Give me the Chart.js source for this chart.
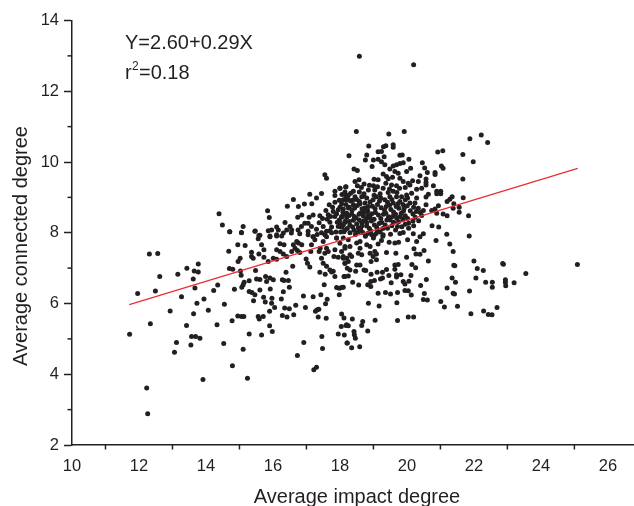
<!DOCTYPE html>
<html>
<head>
<meta charset="utf-8">
<script src="https://cdn.jsdelivr.net/npm/chart.js@4"></script>
<style>
  html, body { margin: 0; padding: 0; background: #fff; overflow: hidden; }
  canvas { display: block; }
</style>
</head>
<body>
<canvas id="chart" width="634" height="506"></canvas>
<script>
/* ===============================
   DATA
================================ */
const sparsePoints = [
  [11.72,5.13],[11.96,6.28],[12.31,7.40],[12.56,7.41],[12.62,6.76],[12.49,6.35],[12.34,5.43],[12.23,3.61],[12.26,2.88],
  [12.93,5.79],[13.06,4.62],[13.12,4.90],[13.16,6.83],[13.27,6.19],[13.43,7.00],[13.42,5.38],[13.55,4.83],[13.57,5.07],
  [13.69,5.07],[13.82,5.02],[13.62,6.69],[13.65,6.92],[13.77,6.89],[13.77,7.12],[13.67,6.44],[13.63,5.71],[13.73,6.01],
  [13.94,6.13],[13.91,3.85],[14.07,5.81],[14.23,6.37],[14.35,6.52],[14.33,5.40],[14.53,4.87],[14.55,5.98],[14.68,7.48],
  [14.70,6.99],[14.80,6.97],[14.71,8.03],[14.78,5.51],[14.79,4.24],[14.85,6.40],[14.95,7.66],[14.95,5.65],[14.96,7.19],
  [15.02,7.28],[15.06,8.00],[15.17,7.64],[15.03,6.92],[15.05,6.80],[15.07,6.46],[15.11,6.53],[15.14,6.60],[15.06,5.63],
  [15.13,5.63],[15.11,4.71],[15.24,3.89],[15.29,5.14],[15.29,6.64],[15.29,6.34],[15.37,6.31],[15.46,6.25],[15.42,6.08],
  [15.36,7.45],[15.36,7.33],[15.41,7.28],[15.58,7.40],[15.48,6.93],[15.51,6.69],[15.61,6.68],[15.61,6.38],[15.46,8.04],
  [15.58,7.92],[15.56,7.83],[15.66,7.66],[15.73,7.52],[15.73,7.31],[15.56,5.63],[15.59,5.56],[15.71,5.63],[15.66,5.11],
  [15.72,6.18],[15.77,6.04],[15.78,6.76],[15.81,6.62],[15.91,6.72],[16.01,6.67],[15.92,6.41],[15.90,5.78],[15.90,5.37],
  [15.98,5.21],[15.97,6.15],[15.96,6.01],[16.05,5.89],[15.86,7.19],[16.01,7.28],[16.11,7.25],[16.25,6.13],[16.28,6.67],
  [16.31,6.33],[16.39,6.88],[16.33,6.65],[16.46,6.65],[16.49,6.46],[16.35,5.87],[16.49,5.85],[16.28,5.66],[16.42,5.62],
  [16.62,5.68],[16.68,5.95],[16.59,7.05],[16.73,4.53],[16.92,4.90],[16.91,6.21],[16.97,5.89],[16.99,7.26],[17.03,7.14],
  [17.10,7.03],[17.20,6.19],[17.32,5.82],[17.27,5.78],[17.37,5.84],[17.35,5.62],[17.43,6.25],[17.59,5.58],[17.46,5.07],
  [17.48,4.73],[17.22,4.13],[17.30,4.20],[17.57,5.99],[17.62,6.12],[17.53,6.53],[17.40,6.88],[17.56,6.83],[17.75,6.89],
  [17.85,6.76],[17.90,6.45],[17.98,6.25],[18.05,5.70],[18.12,5.59],[17.95,5.14],[18.13,5.11],[18.04,5.35],[18.18,5.38],
  [18.22,4.88],[18.10,6.46],[17.98,6.43],[18.15,6.76]
];
const midBandPoints = [
  [16.11,7.52],[16.21,7.47],[16.31,7.40],[16.41,7.33],[16.56,7.47],[16.66,7.56],[16.73,7.50],[16.80,7.44],[16.76,7.71],
  [16.71,7.75],[16.61,7.66],[16.86,7.66],[17.15,7.66],[17.13,7.47],[17.38,7.47],[17.41,7.56],[17.50,7.75],[17.60,7.56],
  [17.55,7.42],[17.45,7.28],[17.50,7.14],[17.60,7.05],[17.70,6.95],[17.80,6.91],[17.65,7.47],[17.85,7.52],[17.82,7.33],
  [17.95,7.31],[18.10,7.33],[18.20,7.28],[18.15,7.14],[18.30,6.95],[18.00,7.70],[18.15,7.61],[18.10,7.85],[18.25,7.80],
  [17.90,7.85],[17.75,8.00],[17.55,7.94],[17.20,7.89],[17.25,7.80],[17.05,7.94],[16.80,7.97],[16.55,7.99],[16.31,7.99],
  [16.11,7.94],[15.91,7.89],[16.21,7.69],[16.33,7.66],
  [14.39,8.54],[14.49,8.22],[14.71,8.03],[15.06,8.01],[15.11,8.18],[15.47,8.05],[15.61,7.93],[15.84,8.62],[15.89,8.43],
  [15.86,8.06],[15.96,8.08],[16.11,8.16],[16.16,8.08],[15.91,7.91],[16.11,7.91],[16.26,7.91],[16.36,8.29],[16.41,8.08],
  [16.51,8.18],[16.56,8.08],[16.43,8.75],[16.61,8.94],[16.76,8.74],[16.94,8.81],[17.16,8.82],[17.10,9.09],[17.30,8.98],
  [17.45,9.11],[16.74,8.44],[16.86,8.50],[17.08,8.44],[17.20,8.50],[17.40,8.48],[17.58,8.63],[17.65,8.51],[17.68,8.79],
  [17.85,8.86],[17.85,9.05],[17.85,9.17],[18.00,9.26],[18.17,9.29],[18.17,9.07],[18.20,8.93],[18.05,8.82],[17.80,8.60],
  [17.95,8.65],[18.10,8.67],[17.85,8.46],[18.05,8.46],[18.15,8.32],[17.95,8.18],[17.75,8.16],[17.50,8.18],[17.60,8.04],
  [17.30,8.10],[17.15,8.18],[17.05,8.27],[16.95,8.27],[16.85,8.18],[16.75,8.08],[17.05,8.04],[17.20,7.89],[17.60,7.89],
  [17.90,7.85],[18.15,8.08],[18.20,8.55],[18.25,8.70],[18.27,10.18],[17.55,9.64],[17.60,9.54]
];
const upperPoints = [
  [18.58,12.99],[20.20,12.75],[18.49,10.86],[19.46,10.79],[19.92,10.86],[21.88,10.66],[22.22,10.76],[22.41,10.55],[18.86,10.45],
  [19.37,10.46],[19.59,10.49],[19.59,10.42],[19.30,10.43],[18.80,10.20],[18.76,10.06],[19.14,10.29],[19.24,10.30],[19.32,10.15],
  [19.00,10.06],[19.14,10.08],[19.24,10.01],[19.34,9.92],[18.96,9.87],[19.79,10.19],[19.86,10.20],[20.06,10.08],[20.92,10.28],
  [21.07,10.32],[21.67,10.21],[21.98,10.01],[20.46,9.98],[20.53,9.83],[20.61,9.70],[21.03,9.89],[21.08,9.82],[20.84,9.70],
  [20.84,9.65],[21.67,9.52],[18.42,9.80],[18.52,9.76],[19.89,9.98],[19.79,9.96],[19.69,9.92],[19.59,9.89],[19.49,9.80],
  [19.64,9.73],[19.74,9.68],[19.79,9.54],[19.99,9.73],[20.11,9.82],[20.39,9.61],[20.57,9.52],[20.57,9.42],[20.34,9.45],
  [20.17,9.47],[20.04,9.40],[19.89,9.45],[19.29,9.66],[19.39,9.59],[19.57,9.57],[19.44,9.53],[18.45,9.45],[18.57,9.50],
  [19.02,9.51],[19.14,9.50],[18.18,9.30],[18.52,9.33],[18.72,9.38],[19.00,9.33],[19.37,9.40],[19.29,9.26],[19.54,9.35],
  [19.69,9.33],[20.09,9.35],[20.29,9.23],[20.44,9.26],[20.57,9.35],[20.79,9.33],[18.00,9.26],[18.40,9.17],[18.85,9.21],
  [19.04,9.21],[19.44,9.14],[19.59,9.17],[20.89,9.17],[21.01,9.17],[20.89,9.10],[21.01,9.10],[20.64,9.09],[20.57,9.01],
  [21.35,9.02],[21.28,8.95],[21.20,8.88],[21.68,8.99],[21.40,8.82],[20.94,8.76],[20.84,8.67],[20.74,8.63],[20.57,8.79],
  [21.56,8.72],[21.38,8.69],[21.56,8.58],[21.08,8.53],[21.20,8.48],[21.84,8.48],[20.89,8.55],[20.49,8.63],[20.34,8.69],
  [20.29,8.98],[20.14,9.12],[19.99,9.07],[19.84,9.02],[19.69,9.02],[19.49,9.02],[19.34,8.93],[19.09,9.02],[18.99,8.93],
  [18.80,8.98],[18.65,9.02],[18.45,9.02],[18.25,8.93],[18.10,8.93],[18.40,8.79],[18.75,8.84],[19.59,8.84],[19.79,8.88],
  [20.09,8.84],[20.24,8.84]
];
const densePoints = [
  [18.28,8.72],[18.52,8.77],[18.74,8.70],[18.97,8.75],[19.23,8.71],[19.48,8.78],[19.76,8.69],[20.01,8.76],[20.20,8.72],
  [18.09,8.58],[18.36,8.63],[18.61,8.56],[18.83,8.62],[19.06,8.57],[19.33,8.64],[19.60,8.59],[19.83,8.55],[20.10,8.62],[20.40,8.57],
  [18.05,8.44],[18.27,8.49],[18.48,8.42],[18.70,8.47],[18.90,8.43],[19.15,8.50],[19.45,8.45],[19.70,8.41],[19.95,8.48],[20.25,8.44],[20.44,8.49],
  [18.16,8.30],[18.40,8.35],[18.65,8.28],[18.94,8.33],[19.25,8.29],[19.50,8.36],[19.75,8.31],[20.05,8.27],[20.35,8.34],
  [18.05,8.16],[18.30,8.21],[18.55,8.14],[18.80,8.19],[19.10,8.15],[19.35,8.22],[19.85,8.17],[20.05,8.13],[20.75,8.20],[20.95,8.16],
  [18.12,8.03],[18.42,8.07],[18.68,8.01],[18.92,8.05],[19.20,8.02],[19.66,8.08],[18.32,8.90],[18.58,8.88],[18.90,8.87],
  [19.18,8.90],[19.42,8.86],[19.95,8.93],[18.20,8.43],[18.57,8.52],[18.80,8.40],[19.02,8.38],[19.37,8.55],[19.60,8.30],
  [18.50,8.25],[18.72,8.34],[19.17,8.26],[19.42,8.13],[19.57,8.46],[19.88,8.38],[18.35,8.53],[18.66,8.68],[19.12,8.80],
  [19.30,8.52],[18.84,8.50],[18.22,8.12],[18.46,7.95],[18.76,7.90],[19.02,7.92],[19.28,7.90],[18.62,8.10],[17.98,8.36],[17.70,8.30],
  [17.38,8.28],[17.78,8.72],[17.98,8.92],[18.58,9.15],[18.72,9.10],[19.20,9.10],[19.70,9.14],[19.92,8.70],[20.18,8.53],
  [18.18,8.80],[18.44,8.70],[18.60,8.82],[18.85,8.74],[19.05,8.68],[19.38,8.74],[19.52,8.66],[19.68,8.74],[19.90,8.62],[20.28,8.60],
  [18.14,8.52],[18.43,8.46],[18.72,8.58],[18.95,8.54],[19.22,8.40],[19.40,8.36],[19.66,8.52],[19.80,8.46],[20.02,8.40],[20.18,8.33],
  [18.00,8.28],[18.28,8.32],[18.58,8.36],[18.80,8.28],[19.03,8.22],[19.28,8.12],[19.55,8.20],[19.72,8.18],[19.95,8.24],[20.20,8.20],
  [18.10,8.22],[18.38,8.16],[18.66,8.20],[18.88,8.12],[19.12,8.05],[18.02,8.02],[18.30,8.00],[18.55,8.03],[18.83,7.98],[19.08,7.98],
  [17.88,8.02],[17.70,8.06],[17.45,8.00],[17.32,7.95],[17.92,8.30],[17.62,8.38],[17.48,8.40],[17.72,8.46],[17.90,8.54],[18.00,8.72],
  [18.18,8.98],[18.38,8.92],[18.50,8.94],[18.70,9.04],[19.02,9.06],[19.22,8.98],[19.55,8.94],[19.73,8.82],[19.88,8.80],[20.02,8.98],
  [18.32,9.12],[18.25,9.05],[18.64,9.28],[18.88,9.34],[19.12,9.30],[19.48,9.24],[19.78,9.26],[19.95,9.28],[18.15,9.15],[18.06,9.08]
];
const lowerPoints = [
  [21.86,7.91],[21.19,7.96],[20.87,7.78],[21.28,7.68],[21.38,7.47],[20.64,7.20],[20.51,7.50],[20.21,7.55],[20.27,7.40],
  [20.39,7.39],[20.02,7.80],[20.29,7.75],[20.39,7.89],[20.49,7.97],[20.19,7.97],[19.89,8.01],[19.79,7.98],[19.51,7.96],
  [19.47,7.73],[19.64,7.71],[19.75,7.73],[19.39,7.44],[19.67,7.42],[19.99,7.31],[19.64,7.09],[19.74,7.10],[20.15,7.10],
  [20.26,7.01],[21.43,7.07],[21.40,7.08],[22.00,7.20],[22.10,6.99],[22.28,6.93],[22.88,7.11],[22.86,7.13],[25.09,7.10],[23.55,6.85],
  [23.20,6.59],[22.94,6.67],[22.94,6.60],[22.95,6.50],[22.55,6.60],[22.55,6.46],[22.35,6.60],[22.06,6.72],[21.87,6.35],
  [21.20,6.44],[21.45,6.60],[21.35,6.72],[21.38,6.29],[21.42,6.27],[20.58,6.68],[20.41,6.51],[20.12,6.79],[20.06,6.63],
  [19.89,6.62],[19.94,6.55],[19.82,6.81],[19.69,6.81],[19.69,6.75],[19.64,6.97],[19.46,6.79],[19.53,6.59],[19.39,6.96],
  [19.27,6.88],[19.27,6.72],[19.21,6.69],[19.11,6.88],[18.93,6.83],[19.03,6.65],[18.92,6.62],[18.83,6.53],[18.92,6.48],
  [18.56,6.52],[18.38,6.60],[18.25,6.78],[18.12,6.76],[18.47,6.91],[18.22,7.00],[18.72,6.95],[18.77,6.93],[18.50,7.09],
  [18.60,7.09],[19.14,6.29],[19.36,6.31],[19.51,6.27],[19.72,6.31],[19.94,6.37],[20.04,6.36],[20.13,6.24],[20.52,6.28],
  [20.49,6.11],[20.61,6.10],[21.01,6.06],[21.12,5.90],[21.51,5.92],[21.91,5.71],[22.29,5.79],[22.43,5.69],[22.54,5.68],
  [22.69,5.89],[18.85,6.01],[19.70,6.02],[19.17,5.93],[19.05,5.53],[19.72,5.52],[20.04,5.62],[20.20,5.62],[18.68,5.49],
  [18.65,5.38],[18.83,5.22],[18.37,5.56],[18.20,5.40],[18.25,5.37],[18.42,5.21],[18.43,5.12],[18.46,5.02],
  [18.21,4.88],[18.35,4.75],[18.59,4.78],[18.05,6.45],[18.10,7.28],[18.30,7.38],[18.35,7.33],[18.55,7.42],[18.65,7.38],
  [18.90,7.42],[19.04,7.47],[19.09,7.40],[18.99,7.33],[19.09,7.24],[18.93,7.19],[18.15,7.14],[18.25,7.19],[19.29,7.94],
  [19.24,7.78],[19.14,7.68],[18.95,7.94],[19.00,7.85],[18.60,7.75],[18.80,7.66],[18.90,7.61],[18.50,7.71],[18.60,7.56],
  [18.30,7.61],[18.15,7.56],[18.05,7.47]
];
const trendX = [11.71, 25.10];
const trendY = [5.97, 9.82];
const xMajorTicks = [10,12,14,16,18,20,22,24,26];
const xMinorTicks = [11,13,15,17,19,21,23,25];
const yMajorTicks = [2,4,6,8,10,12,14];
const yMinorTicks = [3,5,7,9,11,13];
const xAxisTitle = "Average impact degree";
const yAxisTitle = "Average connected degree";

const INK = "#231f20";
const scatterPoints = [...sparsePoints, ...midBandPoints, ...upperPoints, ...densePoints, ...lowerPoints];

/* ===============================
   MINOR TICKS + TEXT
================================ */
const overlayPlugin = {
  id: "overlay",
  afterDraw(chart) {
    const { ctx, scales } = chart;
    ctx.save();
    ctx.strokeStyle = INK;
    ctx.lineWidth = 1.5;
    xMinorTicks.forEach(v => {
      const px = scales.x.getPixelForValue(v);
      ctx.beginPath();
      ctx.moveTo(px, scales.x.top);
      ctx.lineTo(px, scales.x.top + 4.5);
      ctx.stroke();
    });
    yMinorTicks.forEach(v => {
      const py = scales.y.getPixelForValue(v);
      ctx.beginPath();
      ctx.moveTo(scales.y.right, py);
      ctx.lineTo(scales.y.right - 4.5, py);
      ctx.stroke();
    });

    ctx.fillStyle = INK;
    ctx.textBaseline = "alphabetic";
    ctx.textAlign = "left";
    ctx.font = "20px 'Liberation Sans'";
    ctx.fillText("Y=2.60+0.29X", 125, 49);
    ctx.fillText("r", 125, 79);
    ctx.fillText("=0.18", 139, 79);
    ctx.font = "12px 'Liberation Sans'";
    ctx.fillText("2", 132, 70);

    ctx.font = "20px 'Liberation Sans'";
    ctx.textAlign = "center";
    ctx.fillText(xAxisTitle, 357, 503);
    ctx.translate(27, 246);
    ctx.rotate(-Math.PI / 2);
    ctx.fillText(yAxisTitle, 0, 0);
    ctx.restore();
  }
};

/* ===============================
   CHART
================================ */
new Chart(document.getElementById("chart"), {
  type: "scatter",
  data: {
    datasets: [
      {
        label: "Data",
        data: scatterPoints.map(p => ({ x: p[0], y: p[1] })),
        backgroundColor: INK,
        borderWidth: 0,
        pointRadius: 2.5,
        order: 2
      },
      {
        label: "Fit",
        data: trendX.map((x, i) => ({ x, y: trendY[i] })),
        showLine: true,
        borderColor: "#ee2a35",
        borderWidth: 1.3,
        pointRadius: 0,
        order: 1
      }
    ]
  },
  options: {
    responsive: false,
    animation: false,
    layout: { autoPadding: false, padding: { top: 20.5, right: 0, left: 0, bottom: 0 } },
    plugins: { legend: { display: false }, tooltip: { enabled: false } },
    scales: {
      x: {
        type: "linear",
        min: 10,
        max: 26.78,
        afterBuildTicks: axis => { axis.ticks = xMajorTicks.map(value => ({ value })); },
        afterFit: axis => { axis.height = 61; axis.paddingLeft = 0; axis.paddingRight = 0; },
        border: { color: INK, width: 1.5 },
        grid: { display: false, drawOnChartArea: false, drawTicks: true, tickLength: 8, tickColor: INK, tickWidth: 1.5 },
        ticks: { color: INK, font: { family: "Liberation Sans", size: 16.5 }, padding: 4, maxRotation: 0, autoSkip: false }
      },
      y: {
        type: "linear",
        min: 2,
        max: 14,
        afterBuildTicks: axis => { axis.ticks = yMajorTicks.map(value => ({ value })); },
        afterFit: axis => { axis.width = 72; },
        border: { color: INK, width: 1.5 },
        grid: { drawOnChartArea: false, drawTicks: true, tickLength: 8, tickColor: INK, tickWidth: 1.5 },
        ticks: { color: INK, font: { family: "Liberation Sans", size: 16.5 }, padding: 5, autoSkip: false }
      }
    }
  },
  plugins: [overlayPlugin]
});
</script>
</body>
</html>
